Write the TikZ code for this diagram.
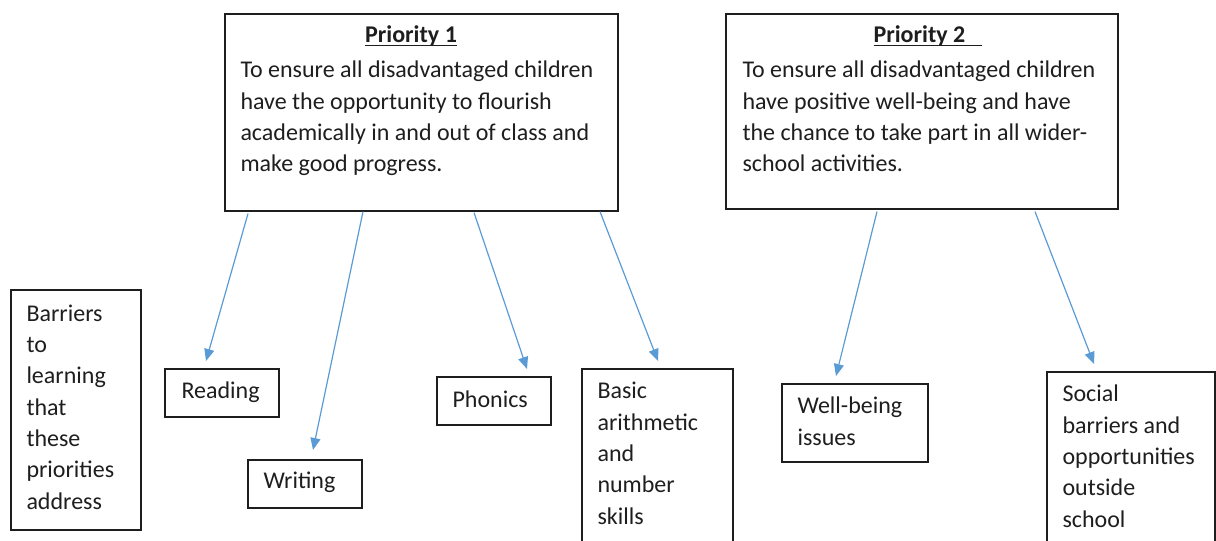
\documentclass[tikz,border=0pt]{standalone}
\usepackage{fontspec}
\setmainfont{Carlito}
\usetikzlibrary{arrows.meta,calc}

\definecolor{linkblue}{HTML}{5B9BD5}
\definecolor{inkgray}{HTML}{1E1E1E}

% underlined heading, rule sits just under the baseline
\newsavebox\headbox
\newcommand{\ulhead}[1]{\sbox\headbox{#1}\rlap{\rule[-2.4pt]{\wd\headbox}{1.1pt}}\usebox\headbox}

\tikzset{every picture/.style={line width=0.75pt}}

\begin{document}
\begin{tikzpicture}[x=0.75pt,y=0.75pt,yscale=-1,xscale=1,
	box/.style 2 args={draw=inkgray, line width=1.2pt, anchor=north west, inner sep=0pt, minimum width=#1*0.75pt, minimum height=#2*0.75pt},
	txt/.style={anchor=base west, inner sep=0pt, align=left, text=inkgray, font=\fontsize{18}{23.5}\selectfont},
	head/.style={txt, font=\fontsize{18}{23.5}\selectfont\bfseries},
	link/.style={draw=linkblue, line width=0.9pt, -{Triangle[length=9pt,width=7.5pt]}}]
	\useasboundingbox (0,0) rectangle (1216,541);
	\clip (0,0) rectangle (1216,541);
	
	%Priority boxes
	\node [box={393}{197}] (p1) at (224,13) {};
	\node [box={392}{195}] (p2) at (725,13) {};
	
	%Barrier boxes
	\node [box={130}{240}] (barriers) at (10,289) {};
	\node [box={114}{48}] (reading) at (164,368) {};
	\node [box={114}{48}] (writing) at (247,459) {};
	\node [box={114}{48}] (phonics) at (436,376) {};
	\node [box={151}{200}] (arith) at (581,368) {};
	\node [box={146}{78}] (wellbeing) at (781,383) {};
	\node [box={168}{200}] (social) at (1046,371) {};
	
	% Text Node (multi-line texts sit on their last baseline)
	\node [head, anchor=base] (p1head) at ($(p1.north west)+(187,30)$) {\ulhead{Priority 1}};
	% Text Node
	\node [txt] (p1text) at ($(p1.north west)+(16,159)$) {To ensure all disadvantaged children\\have the opportunity to flourish\\academically in and out of class and\\make good progress.};
	% Text Node
	\node [head] (p2head) at ($(p2.north west)+(148,30)$) {\ulhead{Priority 2\hspace{12.5pt}}};
	% Text Node
	\node [txt] (p2text) at ($(p2.north west)+(17,159)$) {To ensure all disadvantaged children\\have positive well-being and have\\the chance to take part in all wider-\\school activities.};
	% Text Node
	\node [txt] (barrierstext) at ($(barriers.north west)+(16,220)$) {Barriers\\to\\learning\\that\\these\\priorities\\address};
	% Text Node
	\node [txt] (readingtext) at ($(reading.north west)+(17,30)$) {Reading};
	% Text Node
	\node [txt] (writingtext) at ($(writing.north west)+(16,29)$) {Writing};
	% Text Node
	\node [txt] (phonicstext) at ($(phonics.north west)+(16,31)$) {Phonics};
	% Text Node
	\node [txt] (arithtext) at ($(arith.north west)+(16,156)$) {Basic\\arithmetic\\and\\number\\skills};
	% Text Node
	\node [txt] (wellbeingtext) at ($(wellbeing.north west)+(16,62)$) {Well-being\\issues};
	% Text Node
	\node [txt] (socialtext) at ($(social.north west)+(16,156)$) {Social\\barriers and\\opportunities\\outside\\school};
	
	%Arrows from Priority 1
	\draw [link] ($(p1.south west)+(24,2)$) -- ($(reading.north west)+(42,-7)$);
	\draw [link] ($(p1.south west)+(139,0)$) -- ($(writing.north west)+(66,-9)$);
	\draw [link] ($(p1.south west)+(250,1)$) -- ($(phonics.north west)+(91,-7)$);
	\draw [link] ($(p1.south west)+(376,0)$) -- ($(arith.north west)+(77,-7)$);
	%Arrows from Priority 2
	\draw [link] ($(p2.south west)+(152,2)$) -- ($(wellbeing.north west)+(55,-7)$);
	\draw [link] ($(p2.south west)+(310,2)$) -- ($(social.north west)+(48,-7)$);
	
\end{tikzpicture}
\end{document}
